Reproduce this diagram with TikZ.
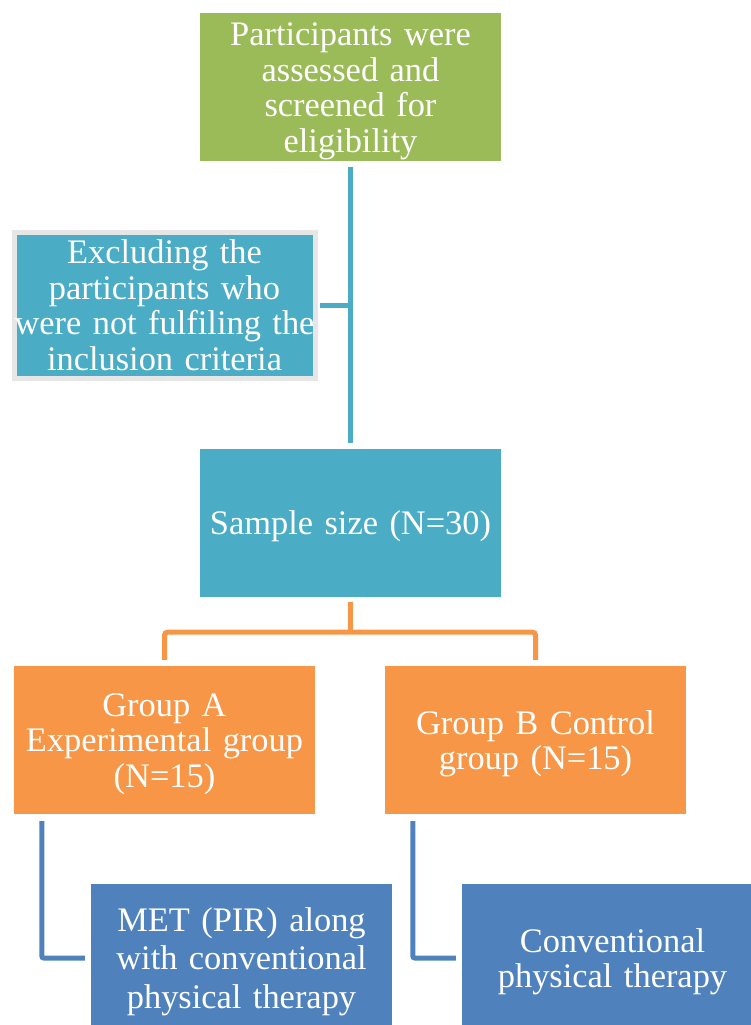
\documentclass[tikz,border=0pt]{standalone}
\usepackage{fontspec}
\setmainfont{Liberation Serif}
\newfontfamily\tnr{Liberation Serif}
\newcommand\topstrut{\rule{0pt}{31pt}}
\definecolor{cgreen}{HTML}{9BBB59}
\definecolor{cteal}{HTML}{4BACC6}
\definecolor{corange}{HTML}{F79646}
\definecolor{cblue}{HTML}{4F81BD}
\definecolor{cgray}{HTML}{E6E6E6}
\tikzset{
  boxbase/.style={rectangle, inner sep=0pt, minimum width=301pt, minimum height=148pt,
    text width=300pt, align=center, text=white, font=\tnr\fontsize{34.4}{35.5}\selectfont},
  greenbox/.style={boxbase, fill=cgreen},
  tealbox/.style={boxbase, fill=cteal},
  orangebox/.style={boxbase, fill=corange},
  bluebox/.style={boxbase, fill=cblue},
  exclbox/.style={boxbase, fill=cteal, draw=cgray, line width=5pt, minimum height=146pt},
  conn/.style={line width=5pt},
}
\begin{document}
\begin{tikzpicture}[x=1pt,y=-1pt]
\useasboundingbox (0,0) rectangle (751,1025);
\clip (0,0) rectangle (751,1025);
\node[greenbox] (green) at (350.5,87) {\topstrut Participants were\\assessed and\\screened for\\eligibility};
\node[exclbox] (excl) at (164.5,305) {Excluding the\\participants who\\were not fulfiling the\\inclusion criteria};
\node[tealbox] (sample) at (350.5,523) {\topstrut Sample size (N=30)};
\node[orangebox] (ga) at (164.5,740) {\topstrut Group A\\Experimental group\\(N=15)};
\node[orangebox] (gb) at (535.5,740) {\topstrut Group B Control\\group (N=15)};
\node[bluebox, font=\tnr\fontsize{34.4}{38.5}\selectfont] (met) at (241.5,958) {\topstrut MET (PIR) along\\with conventional\\physical therapy};
\node[bluebox] (conv) at (612.5,958) {\topstrut Conventional\\physical therapy};
% teal connectors
\draw[conn, cteal] ([yshift=-6pt]green.south) -- ([yshift=6pt]sample.north);
\draw[conn, cteal] ([xshift=2.5pt]excl.east) -- (excl.east -| green.south);
% orange connectors
\draw[conn, corange] ([yshift=-5pt]sample.south) -- ([yshift=-35pt]sample.south);
\draw[conn, corange, rounded corners=3pt] ([yshift=6pt]ga.north) |- ([yshift=-35pt]sample.south) -| ([yshift=6pt]gb.north);
% blue connectors
\draw[conn, cblue, rounded corners=2pt] ([xshift=28pt,yshift=-7pt]ga.south west) |- ([xshift=-6pt]met.west);
\draw[conn, cblue, rounded corners=2pt] ([xshift=28pt,yshift=-7pt]gb.south west) |- ([xshift=-6pt]conv.west);
\end{tikzpicture}
\end{document}
